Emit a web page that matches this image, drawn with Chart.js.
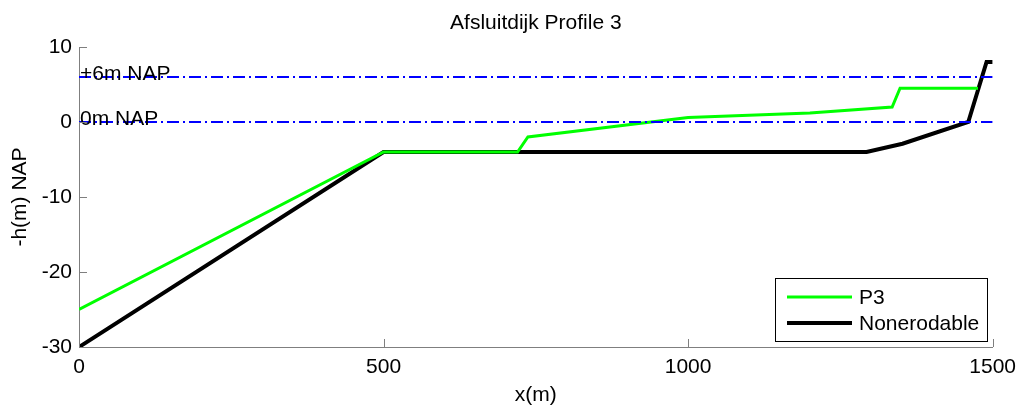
<!DOCTYPE html>
<html>
<head>
<meta charset="utf-8">
<script src="https://cdn.jsdelivr.net/npm/chart.js@4"></script>
<style>
  html, body { margin: 0; padding: 0; background: #fff; }
  #wrap { width: 1024px; height: 410px; }
</style>
</head>
<body>
<div id="wrap"><canvas id="profile"></canvas></div>
<script>
// Profile data
const p3X = [0, 500, 720, 737, 1000, 1200, 1335, 1348, 1476];
const p3Y = [-25, -4, -4, -2, 0.6, 1.2, 2.0, 4.5, 4.5];
const nonX = [0, 500, 1293, 1352, 1460, 1490, 1500];
const nonY = [-30, -4, -4, -2.9, 0, 8, 8];

// Reference levels (NAP)
const refLevels = [6, 0];
const refLabels = ['+6m NAP', '0m NAP'];

const xTicks = [0, 500, 1000, 1500];
const yTicks = [-30, -20, -10, 0, 10];

const FAMILY = '"Liberation Sans", Arial, sans-serif';
const FONT = '21px ' + FAMILY;

const toPoints = (xs, ys) => xs.map((x, i) => ({ x: x, y: ys[i] }));

const refDatasets = refLevels.map(level => ({
  label: 'ref' + level,
  data: toPoints([0, 1500], [level, level]),
  borderColor: '#0000ff',
  borderWidth: 2,
  borderDash: [12, 4, 2, 4],
  pointRadius: 0,
  showLine: true
}));

// Title, reference labels, inward ticks and legend
const decorPlugin = {
  id: 'decor',
  afterDraw(chart) {
    const ctx = chart.ctx;
    const xs = chart.scales.x;
    const ys = chart.scales.y;
    const area = chart.chartArea;
    ctx.save();
    ctx.font = FONT;
    ctx.fillStyle = '#000';

    // title
    ctx.textAlign = 'center';
    ctx.textBaseline = 'middle';
    ctx.fillText('Afsluitdijk Profile 3', (area.left + area.right) / 2, 23);

    // reference labels
    ctx.textAlign = 'left';
    ctx.textBaseline = 'alphabetic';
    refLevels.forEach((level, i) => {
      ctx.fillText(refLabels[i], xs.getPixelForValue(0) + 1, ys.getPixelForValue(level) + 3);
    });

    // inward ticks
    ctx.strokeStyle = '#7f7f7f';
    ctx.lineWidth = 1;
    ctx.beginPath();
    xTicks.forEach(v => {
      const px = Math.round(xs.getPixelForValue(v)) + 0.5;
      ctx.moveTo(px, area.bottom);
      ctx.lineTo(px, area.bottom - 8);
    });
    yTicks.forEach(v => {
      const py = Math.round(ys.getPixelForValue(v)) + 0.5;
      ctx.moveTo(area.left, py);
      ctx.lineTo(area.left + 8, py);
    });
    ctx.stroke();

    // legend
    const box = { x: 775.5, y: 278.5, w: 212, h: 63 };
    ctx.fillStyle = '#fff';
    ctx.fillRect(box.x, box.y, box.w, box.h);
    ctx.strokeStyle = '#000';
    ctx.lineWidth = 1;
    ctx.strokeRect(box.x, box.y, box.w, box.h);
    const entries = [
      { label: 'P3', color: '#00ff00', width: 3, y: 297 },
      { label: 'Nonerodable', color: '#000', width: 4, y: 323 }
    ];
    entries.forEach(e => {
      ctx.strokeStyle = e.color;
      ctx.lineWidth = e.width;
      ctx.beginPath();
      ctx.moveTo(787, e.y);
      ctx.lineTo(852, e.y);
      ctx.stroke();
      ctx.fillStyle = '#000';
      ctx.textBaseline = 'middle';
      ctx.fillText(e.label, 859, e.y + 1);
    });
    ctx.restore();
  }
};

new Chart(document.getElementById('profile'), {
  type: 'scatter',
  data: {
    datasets: [
      ...refDatasets,
      {
        label: 'P3',
        data: toPoints(p3X, p3Y),
        borderColor: '#00ff00',
        borderWidth: 3,
        pointRadius: 0,
        showLine: true
      },
      {
        label: 'Nonerodable',
        data: toPoints(nonX, nonY),
        borderColor: '#000000',
        borderWidth: 4,
        pointRadius: 0,
        showLine: true
      }
    ]
  },
  options: {
    responsive: true,
    maintainAspectRatio: false,
    animation: false,
    layout: { padding: { top: 47, right: 31, left: 0, bottom: 0 } },
    plugins: {
      legend: { display: false },
      tooltip: { enabled: false }
    },
    scales: {
      x: {
        type: 'linear',
        min: 0,
        max: 1500,
        afterFit: scale => { scale.height = 63; },
        afterBuildTicks: scale => { scale.ticks = xTicks.map(v => ({ value: v })); },
        grid: { display: false, drawTicks: false },
        border: { color: '#7f7f7f', width: 1 },
        ticks: {
          color: '#000',
          padding: 8,
          callback: v => String(v),
          font: { family: FAMILY, size: 21 }
        },
        title: {
          display: true,
          text: 'x(m)',
          color: '#000',
          padding: { top: 0, bottom: 2 },
          font: { family: FAMILY, size: 21 }
        }
      },
      y: {
        type: 'linear',
        min: -30,
        max: 10,
        afterFit: scale => { scale.width = 79; },
        afterBuildTicks: scale => { scale.ticks = yTicks.map(v => ({ value: v })); },
        grid: { display: false, drawTicks: false },
        border: { color: '#7f7f7f', width: 1 },
        ticks: {
          color: '#000',
          padding: 7,
          callback: v => String(v),
          font: { family: FAMILY, size: 21 }
        },
        title: {
          display: true,
          text: '-h(m) NAP',
          color: '#000',
          padding: { top: 8, bottom: 0 },
          font: { family: FAMILY, size: 21 }
        }
      }
    }
  },
  plugins: [decorPlugin]
});
</script>
</body>
</html>
